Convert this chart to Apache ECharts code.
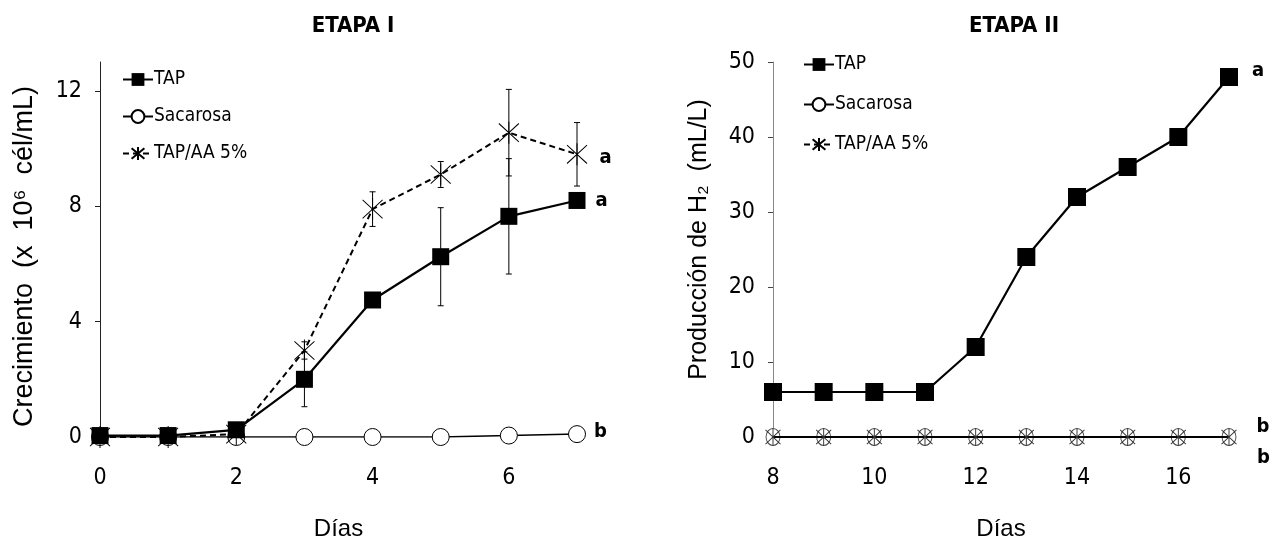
<!DOCTYPE html>
<html>
<head>
<meta charset="utf-8">
<script src="https://cdn.jsdelivr.net/npm/echarts@6/dist/echarts.min.js"></script>
<style>html,body{margin:0;padding:0;background:#fff}#c{width:1274px;height:547px}</style>
</head>
<body>
<div id="c"></div>
<script>
// ---- Data: ETAPA I ----
const days1 = [0, 1, 2, 3, 4, 5, 6, 7];
const tap1 = [0.05, 0.05, 0.25, 2.0, 4.75, 6.25, 7.65, 8.2];
const tapErr1 = [0, 0, 0, 0.95, 0.2, 1.7, 2.0, 0.2];
const sac1 = [0, 0, 0, 0, 0, 0, 0.05, 0.1];
const aa1 = [0, 0, 0.1, 3.0, 7.9, 9.1, 10.55, 9.8];
const aaErr1 = [0, 0, 0, 0.3, 0.6, 0.45, 1.5, 1.1];
// ---- Data: ETAPA II ----
const days2 = [8, 9, 10, 11, 12, 13, 14, 15, 16, 17];
const tap2 = [6, 6, 6, 6, 12, 24, 32, 36, 40, 48];
const sac2 = [0, 0, 0, 0, 0, 0, 0, 0, 0, 0];
const aa2 = [0, 0, 0, 0, 0, 0, 0, 0, 0, 0];
// ---- Text ----
const seriesNames = ['TAP', 'Sacarosa', 'TAP/AA 5%'];
const titles = ['ETAPA I', 'ETAPA II'];
const yNames = ['Crecimiento  (x  10\u2076  cél/mL)', 'Producción de H\u2082  (mL/L)'];
const xName = 'Días';
const sig1 = {TAP: 'a', Sacarosa: 'b', 'TAP/AA 5%': 'a'};
const sig2 = {TAP: 'a', Sacarosa: 'b', 'TAP/AA 5%': 'b'};

const NARROW = "'Liberation Sans Narrow','DejaVu Sans Condensed',sans-serif";
const ARIAL = "'Liberation Sans',Arial,sans-serif";
const STAR = 'path://M0,0L20,20M20,0L0,20M10,-2L10,22';

function pairs(xs, ys) { return xs.map((x, i) => [x, ys[i]]); }
function withLabel(xs, ys, text, offset) {
  const d = pairs(xs, ys);
  const last = d.length - 1;
  return d.map((p, i) => i === last ? {
    value: p,
    label: {show: true, position: 'right', distance: 0, offset: offset, formatter: text,
      fontFamily: NARROW, fontWeight: 'bold', fontSize: 20, color: '#000'}
  } : p);
}
function errData(xs, ys, es) { return xs.map((x, i) => [x, ys[i], es[i]]); }

function errSeries(xi, data) {
  return {
    type: 'custom', xAxisIndex: xi, yAxisIndex: xi, z: 1, silent: true,
    data: data,
    renderItem: function (params, api) {
      const x = api.value(0), y = api.value(1), e = api.value(2);
      if (!e) return null;
      const t = api.coord([x, y + e]), b = api.coord([x, y - e]);
      const st = {stroke: '#000', lineWidth: 1};
      return {type: 'group', children: [
        {type: 'line', shape: {x1: t[0], y1: t[1], x2: b[0], y2: b[1]}, style: st},
        {type: 'line', shape: {x1: t[0] - 3, y1: t[1], x2: t[0] + 3, y2: t[1]}, style: st},
        {type: 'line', shape: {x1: b[0] - 3, y1: b[1], x2: b[0] + 3, y2: b[1]}, style: st}
      ]};
    }
  };
}

const legendText = {fontFamily: NARROW, fontSize: 19, lineHeight: 16, color: '#000', padding: [0, 0, 0, -4]};

const chart = echarts.init(document.getElementById('c'));
chart.setOption({
  animation: false,
  backgroundColor: '#fff',
  title: [
    {text: titles[0], left: 348, top: 10, textAlign: 'center',
      textStyle: {fontFamily: NARROW, fontWeight: 'bold', fontSize: 22, color: '#000'}},
    {text: titles[1], left: 1009, top: 10, textAlign: 'center',
      textStyle: {fontFamily: NARROW, fontWeight: 'bold', fontSize: 22, color: '#000'}}
  ],
  legend: [
    {orient: 'vertical', left: 117, top: 65, itemGap: 18, itemWidth: 30, itemHeight: 16,
      data: seriesNames, selectedMode: false, textStyle: legendText},
    {orient: 'vertical', left: 798, top: 50, itemGap: 21, itemWidth: 30, itemHeight: 16,
      data: seriesNames, selectedMode: false, textStyle: legendText}
  ],
  grid: [
    {left: 100, right: 697, top: 62, bottom: 110},
    {left: 773, right: 45, top: 62, bottom: 110}
  ],
  xAxis: [
    {gridIndex: 0, type: 'value', min: 0, max: 7, interval: 2,
      name: xName, nameLocation: 'middle', nameGap: 80,
      nameTextStyle: {fontFamily: ARIAL, fontSize: 24, color: '#000'},
      axisLine: {show: false}, axisTick: {show: false}, splitLine: {show: false},
      axisLabel: {showMaxLabel: false, margin: 30, fontFamily: NARROW, fontSize: 23, color: '#000'}},
    {gridIndex: 1, type: 'value', min: 8, max: 17, interval: 2,
      name: xName, nameLocation: 'middle', nameGap: 80,
      nameTextStyle: {fontFamily: ARIAL, fontSize: 24, color: '#000'},
      axisLine: {show: false}, axisTick: {show: false}, splitLine: {show: false},
      axisLabel: {showMaxLabel: false, margin: 30, fontFamily: NARROW, fontSize: 23, color: '#000'}}
  ],
  yAxis: [
    {gridIndex: 0, type: 'value', min: 0, max: 13, interval: 4,
      name: yNames[0], nameLocation: 'middle', nameGap: 62, nameRotate: 90,
      nameTextStyle: {fontFamily: ARIAL, fontSize: 27, color: '#000', padding: [0, 14, 0, 0]},
      axisLine: {show: true, lineStyle: {color: '#222', width: 1}},
      axisTick: {show: true, inside: false, length: 5, lineStyle: {color: '#222'}},
      splitLine: {show: false},
      axisLabel: {showMaxLabel: false, margin: 18, fontFamily: NARROW, fontSize: 23, color: '#000'}},
    {gridIndex: 1, type: 'value', min: 0, max: 50, interval: 10,
      name: yNames[1], nameLocation: 'middle', nameGap: 61, nameRotate: 90,
      nameTextStyle: {fontFamily: ARIAL, fontSize: 25, color: '#000', padding: [0, 0, 0, 20]},
      axisLine: {show: true, lineStyle: {color: '#888', width: 1}},
      axisTick: {show: true, inside: false, length: 5, lineStyle: {color: '#444'}},
      splitLine: {show: false},
      axisLabel: {margin: 18, fontFamily: NARROW, fontSize: 23, color: '#000'}}
  ],
  series: [
    errSeries(0, errData(days1, aa1, aaErr1)),
    errSeries(0, errData(days1, tap1, tapErr1)),
    {name: seriesNames[1], type: 'line', xAxisIndex: 0, yAxisIndex: 0, z: 2,
      data: withLabel(days1, sac1, sig1['Sacarosa'], [8, -2]),
      symbol: 'circle', symbolSize: 17,
      lineStyle: {color: '#000', width: 1.5},
      itemStyle: {color: '#fff', borderColor: '#000', borderWidth: 1}},
    {name: seriesNames[2], type: 'line', xAxisIndex: 0, yAxisIndex: 0, z: 3,
      data: withLabel(days1, aa1, sig1['TAP/AA 5%'], [12, 3]),
      symbol: STAR, symbolSize: [20, 22],
      lineStyle: {color: '#000', width: 2, type: [6, 4]},
      itemStyle: {color: 'rgba(0,0,0,0)', borderColor: '#000', borderWidth: 1}},
    {name: seriesNames[0], type: 'line', xAxisIndex: 0, yAxisIndex: 0, z: 4,
      data: withLabel(days1, tap1, sig1['TAP'], [10, 0]),
      symbol: 'rect', symbolSize: 17,
      lineStyle: {color: '#000', width: 2.2},
      itemStyle: {color: '#000'}},

    {name: seriesNames[1], type: 'line', xAxisIndex: 1, yAxisIndex: 1, z: 2,
      data: withLabel(days2, sac2, sig2['Sacarosa'], [20, -10]),
      symbol: 'circle', symbolSize: [14, 17],
      lineStyle: {color: '#000', width: 2},
      itemStyle: {color: '#fff', borderColor: '#444', borderWidth: 1}},
    {name: seriesNames[2], type: 'line', xAxisIndex: 1, yAxisIndex: 1, z: 3,
      data: withLabel(days2, aa2, sig2['TAP/AA 5%'], [20, 21]),
      symbol: STAR, symbolSize: [15, 17],
      lineStyle: {color: '#000', width: 2},
      itemStyle: {color: 'rgba(0,0,0,0)', borderColor: '#333', borderWidth: 1}},
    {name: seriesNames[0], type: 'line', xAxisIndex: 1, yAxisIndex: 1, z: 4,
      data: withLabel(days2, tap2, sig2['TAP'], [14, -6]),
      symbol: 'rect', symbolSize: 18,
      lineStyle: {color: '#000', width: 2.2},
      itemStyle: {color: '#000'}}
  ]
});
</script>
</body>
</html>
